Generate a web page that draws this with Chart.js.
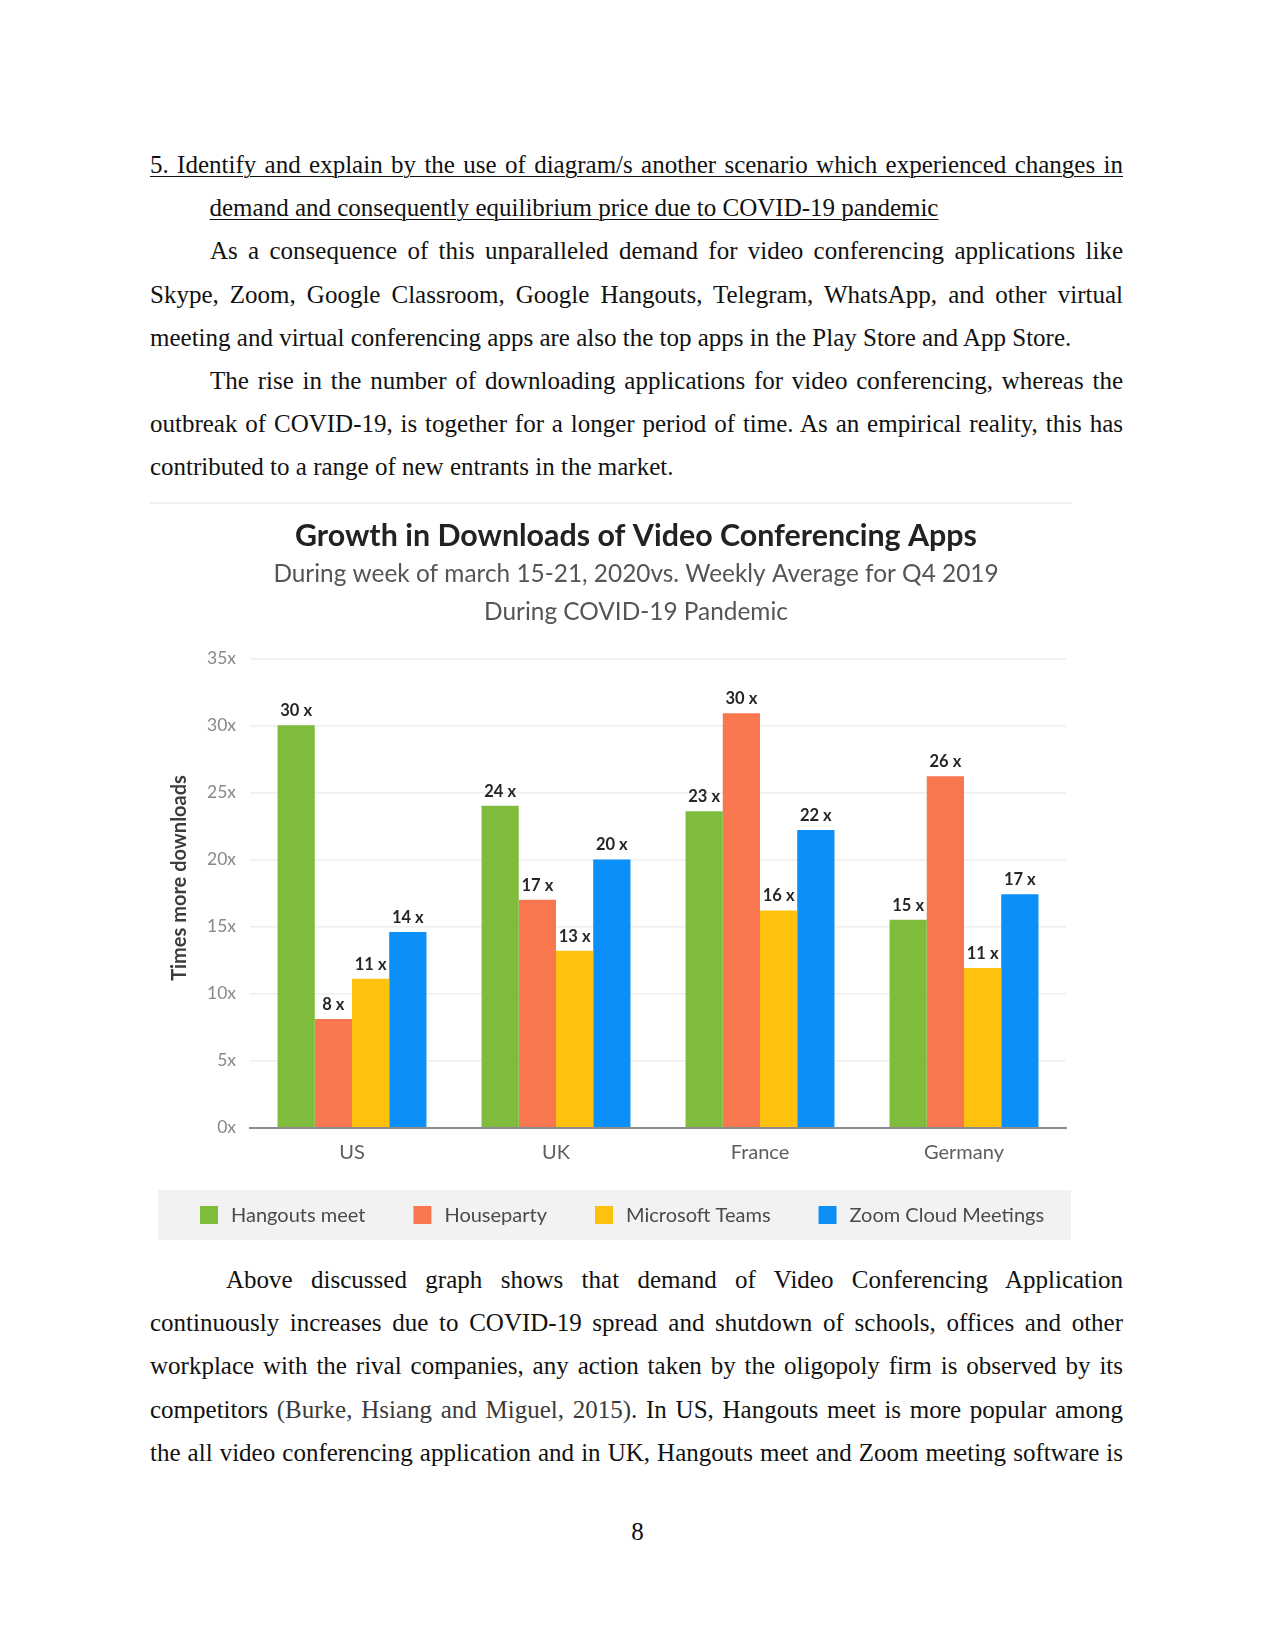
<!DOCTYPE html>
<html>
<head>
<meta charset="utf-8">
<script src="https://cdn.jsdelivr.net/npm/chart.js@4.4.0/dist/chart.umd.min.js"></script>
<style>
  html, body { margin: 0; padding: 0; background: #fff; }
  body { width: 1275px; height: 1651px; position: relative; overflow: hidden; }
  .text { position: absolute; left: 150px; width: 973px; font-family: 'Liberation Serif', 'Times New Roman', serif;
          font-size: 25px; line-height: 43.2px; color: #111; }
  .j { text-align: justify; text-align-last: justify; }
  .u { text-decoration: underline; text-decoration-thickness: 1px; text-underline-offset: 3px; }
  .ind1 { padding-left: 60px; }
  .ind2 { padding-left: 76px; }
  .cite { color: #3a3a3a; }
  #pageNo { position: absolute; left: 0; width: 1275px; top: 1510px; text-align: center;
            font-family: 'Liberation Serif', serif; font-size: 25px; line-height: 43.2px; color: #111; }
  #rule { position: absolute; left: 150px; top: 502px; width: 922px; height: 2px; background: #efefef; }
  #chartBox { position: absolute; left: 150px; top: 505px; width: 922px; height: 740px; }
</style>
</head>
<body>
<div class="text" style="top:143px">
  <div class="j u">5. Identify and explain by the use of diagram/s another scenario which experienced changes in</div>
  <div style="padding-left:59.5px"><span class="u">demand and consequently equilibrium price due to COVID-19 pandemic</span></div>
  <div class="j ind1">As a consequence of this unparalleled demand for video conferencing applications like</div>
  <div class="j">Skype, Zoom, Google Classroom, Google Hangouts, Telegram, WhatsApp, and other virtual</div>
  <div>meeting and virtual conferencing apps are also the top apps in the Play Store and App Store.</div>
  <div class="j ind1">The rise in the number of downloading applications for video conferencing, whereas the</div>
  <div class="j">outbreak of COVID-19, is together for a longer period of time. As an empirical reality, this has</div>
  <div>contributed to a range of new entrants in the market.</div>
</div>

<div id="rule"></div>
<div id="chartBox"><canvas id="chart" width="922" height="740"></canvas></div>

<div class="text" style="top:1258px">
  <div class="j ind2">Above discussed graph shows that demand of Video Conferencing Application</div>
  <div class="j">continuously increases due to COVID-19 spread and shutdown of schools, offices and other</div>
  <div class="j">workplace with the rival companies, any action taken by the oligopoly firm is observed by its</div>
  <div class="j">competitors <span class="cite">(Burke, Hsiang and Miguel, 2015)</span>. In US, Hangouts meet is more popular among</div>
  <div class="j">the all video conferencing application and in UK, Hangouts meet and Zoom meeting software is</div>
</div>
<div id="pageNo">8</div>

<script>
const countries = ['US', 'UK', 'France', 'Germany'];
const appNames = ['Hangouts meet', 'Houseparty', 'Microsoft Teams', 'Zoom Cloud Meetings'];
const hangoutsMeet = [30, 24, 23.6, 15.5];
const houseparty = [8.1, 17, 30.9, 26.2];
const microsoftTeams = [11.1, 13.2, 16.2, 11.9];
const zoomMeetings = [14.6, 20, 22.2, 17.4];
const appColors = ['#80bc3b', '#f8774f', '#fec10d', '#0b8ff8'];
const yMax = 35;
const yStep = 5;

const seriesValues = [hangoutsMeet, houseparty, microsoftTeams, zoomMeetings];
const FONT = 'Lato, "Open Sans", sans-serif';

// "30 x" style labels over each bar
const barValueLabels = {
  id: 'barValueLabels',
  afterDatasetsDraw(chart) {
    const ctx = chart.ctx;
    ctx.save();
    ctx.font = 'bold 16.5px ' + FONT;
    ctx.fillStyle = '#262626';
    ctx.textAlign = 'center';
    ctx.textBaseline = 'alphabetic';
    chart.data.datasets.forEach((ds, i) => {
      chart.getDatasetMeta(i).data.forEach((bar, j) => {
        ctx.fillText(Math.floor(ds.data[j]) + ' x', bar.x, bar.y - 9);
      });
    });
    ctx.restore();
  }
};

// legend on a grey strip, spaced like the original
const stripLegend = {
  id: 'stripLegend',
  afterDraw(chart, args, opts) {
    const ctx = chart.ctx;
    ctx.save();
    ctx.fillStyle = opts.background;
    ctx.fillRect(opts.left, opts.top, chart.width - opts.left - opts.right, opts.height);
    ctx.font = opts.font;
    ctx.textBaseline = 'middle';
    const cy = opts.top + opts.height / 2;
    let x = opts.startX;
    chart.data.datasets.forEach(ds => {
      ctx.fillStyle = ds.backgroundColor;
      ctx.fillRect(x, cy - opts.swatch / 2, opts.swatch, opts.swatch);
      x += opts.swatch + opts.textGap;
      ctx.fillStyle = opts.color;
      ctx.fillText(ds.label, x, cy + 1);
      x += ctx.measureText(ds.label).width + opts.itemGap;
    });
    ctx.restore();
  }
};

new Chart(document.getElementById('chart'), {
  type: 'bar',
  data: {
    labels: countries,
    datasets: appNames.map((name, i) => ({
      label: name,
      data: seriesValues[i],
      backgroundColor: appColors[i],
      borderWidth: 0,
      barPercentage: 1,
      categoryPercentage: 0.73
    }))
  },
  options: {
    responsive: false,
    devicePixelRatio: 1,
    animation: false,
    layout: { padding: { left: 56, right: 6, top: 0, bottom: 72.3 } },
    scales: {
      x: {
        grid: { display: false, drawTicks: false },
        border: { display: true, color: '#8c8c8c', width: 2 },
        ticks: { padding: 12.7, color: '#5e5e5e', font: { family: FONT, size: 20 } },
        afterFit(scale) { scale.height = 45; }
      },
      y: {
        min: 0,
        max: yMax,
        ticks: {
          stepSize: yStep,
          padding: 14,
          color: '#888',
          font: { family: FONT, size: 17.5 },
          callback: v => v + 'x'
        },
        grid: {
          drawTicks: false,
          lineWidth: 1.5,
          color: c => (c.tick && c.tick.value === 0 ? 'rgba(0,0,0,0)' : '#eeeeee')
        },
        border: { display: false },
        title: {
          display: true,
          // leading en spaces lift the rotated title a little, as in the original
          text: '\u2002\u2002\u2002Times more downloads',
          color: '#3c3c3c',
          font: { family: FONT, size: 20, weight: 'bold' },
          padding: { top: -38.5, bottom: 0 }
        },
        afterFit(scale) { scale.width = 44; }
      }
    },
    plugins: {
      legend: { display: false },
      tooltip: { enabled: false },
      title: {
        display: true,
        text: 'Growth in Downloads of Video Conferencing Apps',
        color: '#222',
        font: { family: FONT, size: 30.4, weight: 'bold', lineHeight: 1.2 },
        padding: { top: 12.8, bottom: 0 }
      },
      subtitle: {
        display: true,
        text: ['During week of march 15-21, 2020vs. Weekly Average for Q4 2019', 'During COVID-19 Pandemic'],
        color: '#555',
        font: { family: FONT, size: 24.4, lineHeight: '38px' },
        padding: { top: 0.7, bottom: 27.3 }
      },
      stripLegend: {
        background: '#f2f2f2',
        left: 8,
        right: 1,
        top: 685,
        height: 50,
        startX: 50,
        swatch: 18,
        textGap: 13,
        itemGap: 48,
        font: '20px ' + FONT,
        color: '#4a4a4a'
      }
    }
  },
  plugins: [barValueLabels, stripLegend]
});
</script>
</body>
</html>
